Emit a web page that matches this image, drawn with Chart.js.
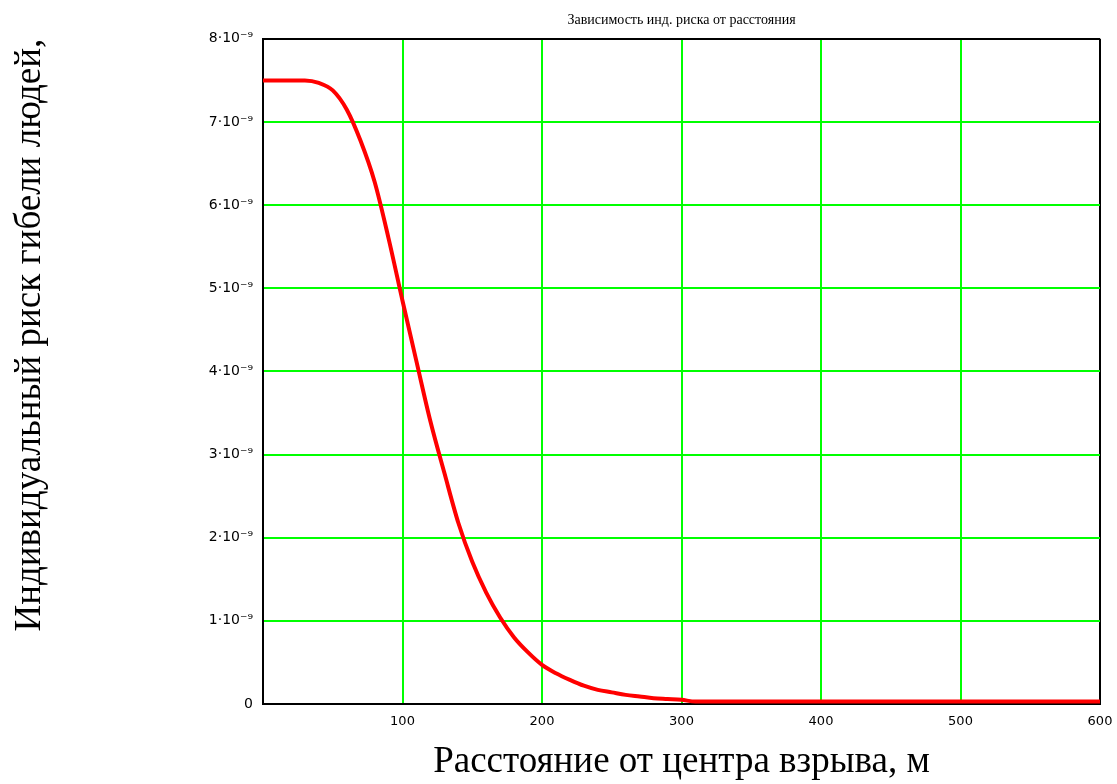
<!DOCTYPE html>
<html>
<head>
<meta charset="utf-8">
<script src="https://cdn.jsdelivr.net/npm/chart.js@4.4.1/dist/chart.umd.min.js"></script>
<style>
  html, body { margin: 0; padding: 0; background: #fff; }
  #wrap { width: 1117px; height: 784px; }
</style>
</head>
<body>
<div id="wrap"><canvas id="riskChart" width="1117" height="784"></canvas></div>
<script>
  // расстояние от центра взрыва, м
  const distance = [0, 10, 20, 30, 40, 50, 60, 70, 80, 90, 100, 110, 120, 130, 140, 150, 160, 170, 180, 190,
    200, 210, 220, 230, 240, 250, 260, 270, 280, 290, 300, 310, 320, 350, 400, 450, 500, 550, 600];
  // индивидуальный риск, в единицах 1e-9
  const riskE9 = [7.5, 7.5, 7.5, 7.5, 7.47, 7.38, 7.15, 6.77, 6.28, 5.6, 4.85, 4.12, 3.4, 2.78, 2.18, 1.71, 1.34, 1.04, 0.8, 0.62,
    0.47, 0.37, 0.29, 0.22, 0.17, 0.14, 0.11, 0.09, 0.07, 0.06, 0.05, 0.03, 0.03, 0.03, 0.03, 0.03, 0.03, 0.03, 0.03];
  const yTicks = [0, 1, 2, 3, 4, 5, 6, 7, 8];
  const xTicks = [0, 100, 200, 300, 400, 500, 600];

  const points = distance.map(function(d, i) {
    return { x: d, y: riskE9[i] };
  });

  new Chart(document.getElementById('riskChart'), {
    type: 'line',
    data: {
      datasets: [{
        data: points,
        borderColor: '#ff0000',
        borderWidth: 4,
        pointRadius: 0,
        cubicInterpolationMode: 'monotone',
        fill: false
      }]
    },
    options: {
      responsive: false,
      animation: false,
      layout: { padding: { left: 0, right: 17, top: 0, bottom: 0 } },
      plugins: {
        legend: { display: false },
        tooltip: { enabled: false },
        title: {
          display: true,
          fullSize: false,
          text: 'Зависимость инд. риска от расстояния',
          color: '#000',
          font: { family: 'Liberation Serif', size: 14, weight: 'normal' },
          padding: { top: 12, bottom: 10 }
        }
      },
      scales: {
        x: {
          type: 'linear',
          min: 0,
          max: 600,
          afterBuildTicks: function(scale) {
            scale.ticks = xTicks.map(function(v) { return { value: v }; });
          },
          afterFit: function(scale) {
            scale.paddingLeft = 0;
            scale.paddingRight = 0;
          },
          ticks: {
            color: '#000',
            padding: 10,
            maxRotation: 0,
            font: { family: 'DejaVu Sans', size: 13 },
            callback: function(v) { return v === 0 ? '' : String(v); }
          },
          grid: {
            drawTicks: false,
            lineWidth: 2,
            color: function(ctx) {
              const v = ctx.tick ? ctx.tick.value : null;
              return (v === 0 || v === 600) ? '#000' : '#00ff00';
            }
          },
          border: { display: true, color: '#000', width: 2 },
          title: {
            display: true,
            text: 'Расстояние от центра взрыва, м',
            color: '#000',
            font: { family: 'Liberation Serif', size: 37, lineHeight: 1.2 },
            padding: { top: 0, bottom: 0 }
          }
        },
        y: {
          min: 0,
          max: 8,
          afterBuildTicks: function(scale) {
            scale.ticks = yTicks.map(function(v) { return { value: v }; });
          },
          afterFit: function(scale) {
            scale.width = 263;
          },
          ticks: {
            color: '#000',
            padding: 10,
            font: { family: 'DejaVu Sans', size: 14 },
            callback: function(v) { return v === 0 ? '0' : v + '·10⁻⁹'; }
          },
          grid: {
            drawTicks: false,
            lineWidth: 2,
            color: function(ctx) {
              const v = ctx.tick ? ctx.tick.value : null;
              return (v === 0 || v === 8) ? '#000' : '#00ff00';
            }
          },
          border: { display: true, color: '#000', width: 2 },
          title: {
            display: true,
            align: 'end',
            text: 'Индивидуальный риск гибели людей,',
            color: '#000',
            font: { family: 'Liberation Serif', size: 37 },
            padding: { top: 8, bottom: 0 }
          }
        }
      }
    }
  });
</script>
</body>
</html>
